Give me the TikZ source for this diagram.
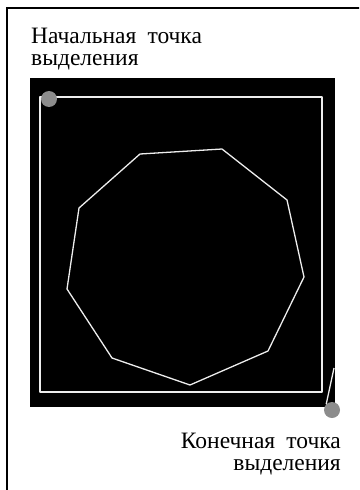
\documentclass[tikz,border=0pt]{standalone}
\usepackage{fontspec}
\setmainfont{Liberation Serif}[WordSpace=1.9]
\usepackage{tikz}
\definecolor{trail}{gray}{0.93}
\definecolor{marker}{gray}{0.55}
\tikzset{
  label/.style={inner sep=0pt, font=\fontsize{23.5}{21.5}\selectfont, text=black},
  dot/.style={circle, fill=marker, minimum size=16pt, inner sep=0pt},
  trace/.style={draw=trail, line width=1.6pt, line join=round}
}
\begin{document}
\begin{tikzpicture}[x=1pt, y=-1pt]
  \useasboundingbox (0,0) rectangle (359,490);
  \clip (0,0) rectangle (359,490);
  % Rahmen (rechts und unten abgeschnitten):
  \draw[line width=1.4pt] (7,8) rectangle (380,510);
  % schwarzes Bild:
  \fill[black] (30,78) rectangle (335,407);
  % Auswahlrechteck:
  \draw[trace] (40,97) rectangle (322,392);
  % Polygon:
  \draw[trace, line width=1.3pt] (140,154) -- (222,149) -- (287,200) -- (304,277) -- (268,351)
        -- (190,385) -- (112,358) -- (67,289) -- (79,208) -- cycle;
  % Punkte:
  \node[dot] (start) at (49,99) {};
  \node[dot] (end) at (332,410) {};
  \coordinate (tail) at (334,368);
  \draw[trace, line width=1.3pt] (tail) -- (end.north west);
  % Beschriftungen (Grundlinie der letzten Zeile):
  \node[label, anchor=base west, align=left] (starttext) at (31,65)
    {Начальная точка\\выделения};
  \node[label, anchor=base east, align=right] (endtext) at (341,470)
    {Конечная точка\\выделения};
\end{tikzpicture}
\end{document}
